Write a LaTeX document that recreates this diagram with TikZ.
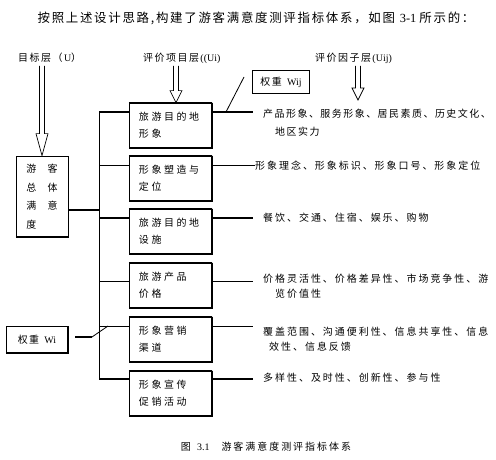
\documentclass[tikz,border=0pt]{standalone}
\usepackage{fontspec}
\setmainfont{Liberation Serif}
\newfontfamily\zhtitle[LetterSpace=14]{Noto Sans CJK SC}
\newfontfamily\zhlbl[LetterSpace=15]{Noto Sans CJK SC}
\newfontfamily\zhbox[LetterSpace=26]{Noto Sans CJK SC}
\newfontfamily\zhtxt[LetterSpace=20]{Noto Sans CJK SC}
\newfontfamily\zhtxtn[LetterSpace=15]{Noto Sans CJK SC}
\usetikzlibrary{calc}

% 空心箭头: #1 起点, #2 箭头尖, #3 箭头长度
\newcommand{\hollowarrow}[3]{%
  \draw[arrowline] ($#1+(-2.5,0)$) -- ($#2+(-2.5,-#3)$) -- ($#2+(-6,-#3)$)
    -- #2 -- ($#2+(6,-#3)$) -- ($#2+(2.5,-#3)$) -- ($#1+(2.5,0)$);}

\begin{document}
\begin{tikzpicture}[x=0.03cm, y=-0.03cm,
  thinline/.style={line width=0.7pt},
  thickline/.style={line width=1.6pt},
  arrowline/.style={line width=0.6pt},
  xiangbox/.style={draw, line width=0.6pt, text width=1.89cm, inner xsep=0.3cm,
    inner ysep=0pt, minimum height=1.35cm, align=left,
    font=\fontsize{8.5}{14.5}\selectfont\zhbox,
    path picture={\draw[line width=2pt] (path picture bounding box.north west)
      -- (path picture bounding box.north east) -- (path picture bounding box.south east)
      -- (path picture bounding box.south west);}},
  yinzi/.style={anchor=base west, inner sep=0pt, align=left,
    font=\fontsize{8.5}{13.6}\selectfont\zhtxt},
  ceng/.style={anchor=west, inner sep=0pt, font=\fontsize{8.5}{10}\selectfont\zhlbl}]

\useasboundingbox (0,0) rectangle (496,460);

% 标题
\node[font=\fontsize{10.6}{12}\selectfont\zhtitle] (title) at (256,18)
  {按照上述设计思路,构建了游客满意度测评指标体系，如图\textrm{ 3-1 }所示的：};

% 层次标签
\node[ceng] (lblU) at (18,58) {目标层（\textrm{U}）};
\node[ceng] (lblUi) at (143,58) {评价项目层\textrm{((Ui)}};
\node[ceng] (lblUij) at (315,58) {评价因子层\textrm{(Uij)}};

% 权重 Wij
\node[draw, line width=1.2pt, minimum width=1.71cm, minimum height=0.69cm,
  font=\fontsize{8.5}{10}\selectfont\zhlbl] (wij) at (281,82) {权重 \textrm{Wij}};

% 目标层
\node[draw, line width=0.6pt, minimum width=1.56cm, minimum height=2.43cm, align=left,
  font=\fontsize{8.5}{15.9}\selectfont\zhlbl,
  path picture={\draw[line width=2pt] (path picture bounding box.south west)
    -- (path picture bounding box.south east);}] (bU) at (42,196.5)
  {游\hspace{9.7pt}客\\总\hspace{9.7pt}体\\满\hspace{9.7pt}意\\度};

% 权重 Wi
\node[draw, line width=0.6pt, minimum width=1.86cm, minimum height=0.81cm,
  font=\fontsize{8.5}{10}\selectfont\zhlbl,
  path picture={\draw[line width=2pt] (path picture bounding box.south west)
    -- (path picture bounding box.south east) -- (path picture bounding box.north east);}]
  (wi) at (37,339.5) {权重 \textrm{Wi}};

% 评价项目
\node[xiangbox] (b1) at (170.5,125.5) {旅游目的地\\形象};
\node[xiangbox] (b2) at (170.5,178.5) {形象塑造与\\定位};
\node[xiangbox] (b3) at (170.5,231.5) {旅游目的地\\设施};
\node[xiangbox] (b4) at (170.5,285.5) {旅游产品\\价格};
\node[xiangbox] (b5) at (170.5,339.5) {形象营销\\渠道};
\node[xiangbox] (b6) at (170.5,393.5) {形象宣传\\促销活动};

% 评价因子 (两行的以末行基线定位)
\node[yinzi, font=\fontsize{8.5}{16.2}\selectfont\zhtxtn] (t1) at (263,136)
  {产品形象、服务形象、居民素质、历史文化、\\\hspace{10.2pt}地区实力};
\node[yinzi] (t2) at (255,170) {形象理念、形象标识、形象口号、形象定位};
\node[yinzi] (t3) at (263,222) {餐饮、交通、住宿、娱乐、购物};
\node[yinzi] (t4) at (263,298) {价格灵活性、价格差异性、市场竞争性、游\\\hspace{10.2pt}览价值性};
\node[yinzi] (t5) at (263,351) {覆盖范围、沟通便利性、信息共享性、信息\\\hspace{5.1pt}效性、信息反馈};
\node[yinzi] (t6) at (263,382) {多样性、及时性、创新性、参与性};

% 连接点
\coordinate (J) at (99,210);
\coordinate (L1) at (99,112);
\coordinate (L2) at (99,165);
\coordinate (L3) at (99,218);
\coordinate (L4) at (99,281);
\coordinate (L5) at (99,326);
\coordinate (L6) at (99,379);
\coordinate (R1) at (253,112);
\coordinate (R2) at (255,165);
\coordinate (R3) at (253,218);
\coordinate (R4) at (253,281);
\coordinate (R5) at (253,326);
\coordinate (R6) at (253,379);

% 竖线
\draw[thinline] (L1) -- (L6);
\draw[thickline] (bU.east |- J) -- (J);

% 左侧连线
\draw[thickline] (L1) -- (L1 -| b1.west);
\draw[thinline] (L2) -- (L2 -| b2.west);
\draw[thickline] (L3) -- (L3 -| b3.west);
\draw[thinline] (L4) -- (L4 -| b4.west);
\draw[thinline] (L5) -- (L5 -| b5.west);
\draw[thickline] (L6) -- (L6 -| b6.west);

% 右侧连线
\draw[thickline] (R1 -| b1.east) -- (R1);
\draw[thinline] (R2 -| b2.east) -- (R2);
\draw[thickline] (R3 -| b3.east) -- (R3);
\draw[thinline] (R4 -| b4.east) -- (R4);
\draw[thinline] (R5 -| b5.east) -- (R5);
\draw[thickline] (R6 -| b6.east) -- (R6);

% 权重斜线
\coordinate (sA) at (244,77);
\coordinate (sB) at (226,112);
\draw[thinline] (sA) -- (sB);
\coordinate (wA) at (75,337);
\coordinate (wB) at (92,337);
\coordinate (wC) at (108,326);
\draw[thickline] (wA) -- (wB);
\draw[thinline] (wB) -- (wC);

% 空心箭头
\coordinate (aU) at (42,66);
\coordinate (aUi) at (176,66);
\coordinate (aUij) at (358,66);
\coordinate (aUijEnd) at (358,100);
\hollowarrow{(aU)}{(bU.north)}{22}
\hollowarrow{(aUi)}{(aUi |- b1.north)}{12}
\hollowarrow{(aUij)}{(aUijEnd)}{12}

% 图名
\node[font=\fontsize{8.5}{10}\selectfont\zhtxt] (cap) at (266,447)
  {图 \textrm{3.1}\hspace{10.2pt}游客满意度测评指标体系};

\end{tikzpicture}
\end{document}
